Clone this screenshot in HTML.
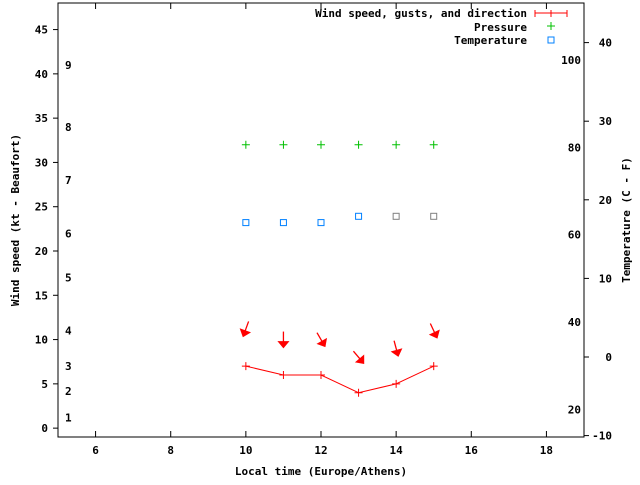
<!DOCTYPE html>
<html><head><meta charset="utf-8"><style>
body{margin:0;background:#fff}
svg text{font-family:"DejaVu Sans Mono","Liberation Mono",monospace;font-size:11px;font-weight:bold;fill:#000}
</style></head><body>
<svg id="chart" width="640" height="480" viewBox="0 0 640 480" xmlns="http://www.w3.org/2000/svg">
<rect x="0" y="0" width="640" height="480" fill="#fff"/>
<g id="axes"></g><g id="marks"></g>
</svg>
<script>
const hours=[10,11,12,13,14,15];
const windKt=[7,6,6,4,5,7];
const windFromDeg=[20,0,330,320,345,335];
const arrowKt=[11.2,10,10,8,9,11];
const pressureVal=[32,32,32,32,32,32];
const tempC=[17.1,17.1,17.1,17.9,17.9,17.9];
const tempColors=["#0080ff","#0080ff","#0080ff","#0080ff","#808080","#808080"];
const xTicks=[6,8,10,12,14,16,18];
const yTicks=[0,5,10,15,20,25,30,35,40,45];
const tTicks=[-10,0,10,20,30,40];
const fTicks=[20,40,60,80,100];
const beaufort=[[1,1.2],[2,4.2],[3,7],[4,11],[5,17],[6,22],[7,28],[8,34],[9,41]];

const L=58,R=584,T=3,B=437;
const xs=v=>L+(v-5)/14*(R-L);
const ys=v=>B-(v+1)/49*(B-T);
const ts=v=>357-v*7.86;
const NS="http://www.w3.org/2000/svg";
function mk(p,tag,a){const e=document.createElementNS(NS,tag);for(const k in a)e.setAttribute(k,a[k]);p.appendChild(e);return e;}
const ax=document.getElementById('axes'),mg=document.getElementById('marks');

const frame=mk(ax,'rect',{x:L,y:T,width:R-L,height:B-T,fill:'none',stroke:'#000','stroke-width':1});


xTicks.forEach(v=>{const x=xs(v);
 mk(ax,'line',{x1:x,y1:B,x2:x,y2:B-6,stroke:'#000'});mk(ax,'line',{x1:x,y1:T,x2:x,y2:T+6,stroke:'#000'});
 const t=mk(ax,'text',{x:x,y:B+17,'text-anchor':'middle'});t.textContent=v;
 
 });
yTicks.forEach(v=>{const y=ys(v);
 mk(ax,'line',{x1:L,y1:y,x2:L-5,y2:y,stroke:'#000'});
 const t=mk(ax,'text',{x:L-10,y:y+4,'text-anchor':'end'});t.textContent=v;
 
 });
tTicks.forEach(v=>{const y=ts(v);
 mk(ax,'line',{x1:R,y1:y,x2:R+5,y2:y,stroke:'#000'});
 const t=mk(ax,'text',{x:R+28,y:y+4,'text-anchor':'end'});t.textContent=v;
 
 });
fTicks.forEach(v=>{const y=ts((v-32)*5/9);
 const t=mk(ax,'text',{x:R-3,y:y+4,'text-anchor':'end'});t.textContent=v;
 
 });
beaufort.forEach(b=>{const t=mk(ax,'text',{x:65,y:ys(b[1])+4});t.textContent=b[0];
 
 });
let t=mk(ax,'text',{x:321,y:475,'text-anchor':'middle'});t.textContent='Local time (Europe/Athens)';


t=mk(ax,'text',{x:0,y:0,'text-anchor':'middle',transform:'translate(19,220) rotate(-90)'});t.textContent='Wind speed (kt - Beaufort)';


t=mk(ax,'text',{x:0,y:0,'text-anchor':'middle',transform:'translate(630,220) rotate(-90)'});t.textContent='Temperature (C - F)';



// legend
[['Wind speed, gusts, and direction',17],['Pressure',31],['Temperature',44]].forEach(l=>{
 const e=mk(ax,'text',{x:527,y:l[1],'text-anchor':'end'});e.textContent=l[0];
 
 });
mk(ax,'line',{x1:535,y1:13,x2:567,y2:13,stroke:'#f00'});
mk(ax,'line',{x1:535,y1:10,x2:535,y2:17,stroke:'#f00'});mk(ax,'line',{x1:567,y1:10,x2:567,y2:17,stroke:'#f00'});
mk(ax,'line',{x1:551,y1:10,x2:551,y2:17,stroke:'#f00'});
mk(ax,'path',{d:'M547 26h8M551 22v8',stroke:'#00c000'});
mk(ax,'rect',{x:548,y:37,width:6,height:6,fill:'none',stroke:'#0080ff'});

// wind line
const pts=hours.map((h,i)=>xs(h)+','+ys(windKt[i])).join(' ');
const wl=mk(mg,'polyline',{points:pts,fill:'none',stroke:'#f00'});


hours.forEach((h,i)=>{const x=xs(h),y=ys(windKt[i]);
 const p=mk(mg,'path',{d:`M${x-4} ${y}h8M${x} ${y-4}v8`,stroke:'#f00'});
 
 
 // arrow
 const cx=x,cy=ys(arrowKt[i]);
 const g=mk(mg,'g',{transform:`translate(${cx},${cy}) rotate(${windFromDeg[i]})`});
 
 
 mk(g,'line',{x1:0,y1:-8,x2:0,y2:4,stroke:'#f00','stroke-width':1.3});
 mk(g,'path',{d:'M-5 2L0 8L5 2Z',fill:'#f00',stroke:'#f00'});
 // pressure
 const px=x,py=ys(pressureVal[i]);
 const pp=mk(mg,'path',{d:`M${px-4} ${py}h8M${px} ${py-4}v8`,stroke:'#00c000'});
 
 
 const ty=ts(tempC[i]);
 const r=mk(mg,'rect',{x:x-3,y:ty-3,width:6,height:6,fill:'none',stroke:tempColors[i]});
 
 
});
</script>
</body></html>
